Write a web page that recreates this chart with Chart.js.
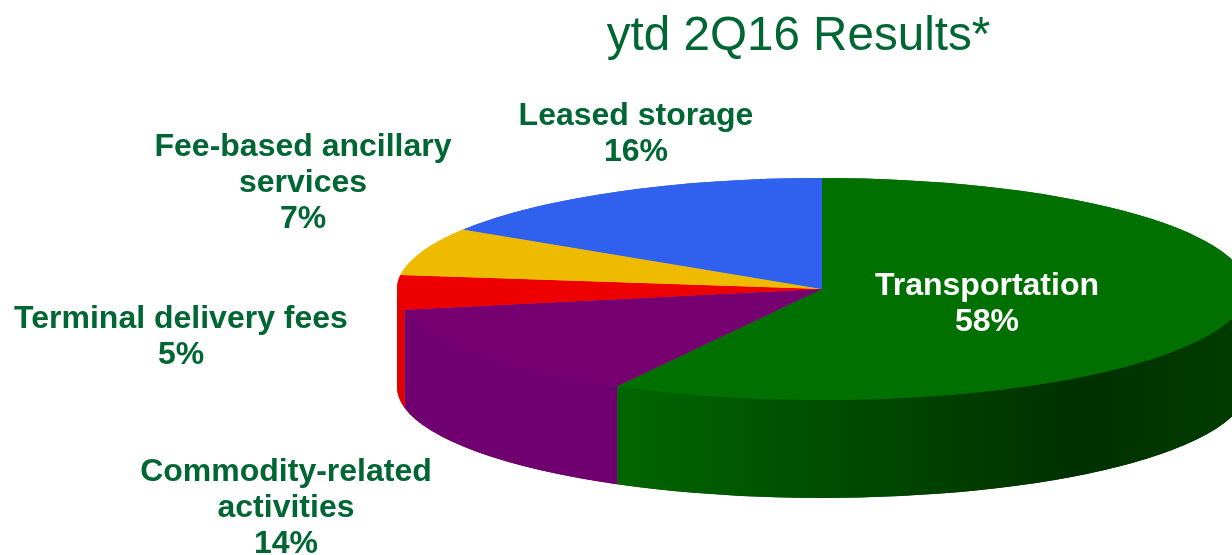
<!DOCTYPE html>
<html>
<head>
<meta charset="utf-8">
<title>ytd 2Q16 Results</title>
<script src="https://cdn.jsdelivr.net/npm/chart.js@4/dist/chart.umd.min.js"></script>
<style>
	html, body { margin: 0; padding: 0; background: #fff; overflow: hidden; }
	canvas { display: block; }
</style>
</head>
<body>
<canvas id="values" width="1232" height="555"></canvas>
<script>
var chartTitle = 'ytd 2Q16 Results*';
var categories = ['Transportation', 'Commodity-related activities', 'Terminal delivery fees', 'Fee-based ancillary services', 'Leased storage'];
var shares = [58, 14, 5, 7, 16];
var topColors = ['#007000', '#760070', '#ee0000', '#eebb00', '#3060ee'];
var wallColors = ['#006600', '#70006f', '#e00000', '#d8aa00', '#2a55d8'];
var labelLines = [['Transportation'], ['Commodity-related', 'activities'], ['Terminal delivery fees'], ['Fee-based ancillary', 'services'], ['Leased storage']];
var labelColors = ['#ffffff', '#006633', '#006633', '#006633', '#006633'];

// pie geometry on the page
var cx = 822, cy = 289, rx = 425, ry = 111, depth = 98;
var labelX = [987, 286, 181, 303, 636];
var labelY = [295, 481, 328, 156, 125];

// the library draws a circle, this squashes it and adds the side wall
var pie3d = {
	id: 'pie3d',
	beforeDatasetDraw: function(chart, args) {
		var ctx = chart.ctx;
		var arcs = chart.getDatasetMeta(args.index).data;
		// walls go down twice, one pass leaves a light seam between them
		for (var pass = 0; pass < 2; pass++) {
			for (var i = 0; i < arcs.length; i++) {
				var a0 = Math.max(arcs[i].startAngle, 0);
				var a1 = Math.min(arcs[i].endAngle, Math.PI);
				if (a1 <= a0) continue;
				// top edge sits 1px under the face for the same reason
				ctx.beginPath();
				ctx.ellipse(cx, cy - 1, rx, ry, 0, a0, a1);
				ctx.ellipse(cx, cy + depth, rx, ry, 0, a1, a0, true);
				ctx.closePath();
				if (i == 0) {
					var g = ctx.createLinearGradient(616, 0, 1232, 0);
					g.addColorStop(0, wallColors[0]);
					g.addColorStop(0.75, '#003000');
					g.addColorStop(1, '#003c00');
					ctx.fillStyle = g;
				} else {
					ctx.fillStyle = wallColors[i];
				}
				ctx.fill();
			}
		}
		ctx.save();
		ctx.translate(cx, cy);
		ctx.scale(rx / ry, 1);
		ctx.translate(-cx, -cy);
	},
	afterDatasetDraw: function(chart, args) {
		// second pass closes the hairlines between slices
		var arcs = chart.getDatasetMeta(args.index).data;
		for (var i = 0; i < arcs.length; i++) {
			arcs[i].draw(chart.ctx);
		}
		chart.ctx.restore();
	},
	afterDraw: function(chart) {
		var ctx = chart.ctx;
		ctx.save();
		ctx.textAlign = 'center';
		ctx.textBaseline = 'alphabetic';
		ctx.fillStyle = '#006633';
		ctx.font = '47.6px "Liberation Sans"';
		ctx.fillText(chartTitle, 798.5, 50);
		ctx.font = 'bold 32px "Liberation Sans"';
		for (var i = 0; i < categories.length; i++) {
			var lines = labelLines[i].concat(shares[i] + '%');
			ctx.fillStyle = labelColors[i];
			for (var j = 0; j < lines.length; j++) {
				ctx.fillText(lines[j], labelX[i], labelY[i] + j * 36);
			}
		}
		ctx.restore();
	}
};

var barGraph = new Chart(document.getElementById('values'), {
	type: 'pie',
	data: {
		labels: categories,
		datasets: [{
			data: shares,
			backgroundColor: topColors,
			borderWidth: 0
		}]
	},
	options: {
		responsive: false,
		animation: false,
		layout: { padding: { left: 412, right: 0, top: 178, bottom: 155 } },
		plugins: {
			legend: { display: false },
			tooltip: { enabled: false }
		}
	},
	plugins: [pie3d]
});
</script>
</body>
</html>
